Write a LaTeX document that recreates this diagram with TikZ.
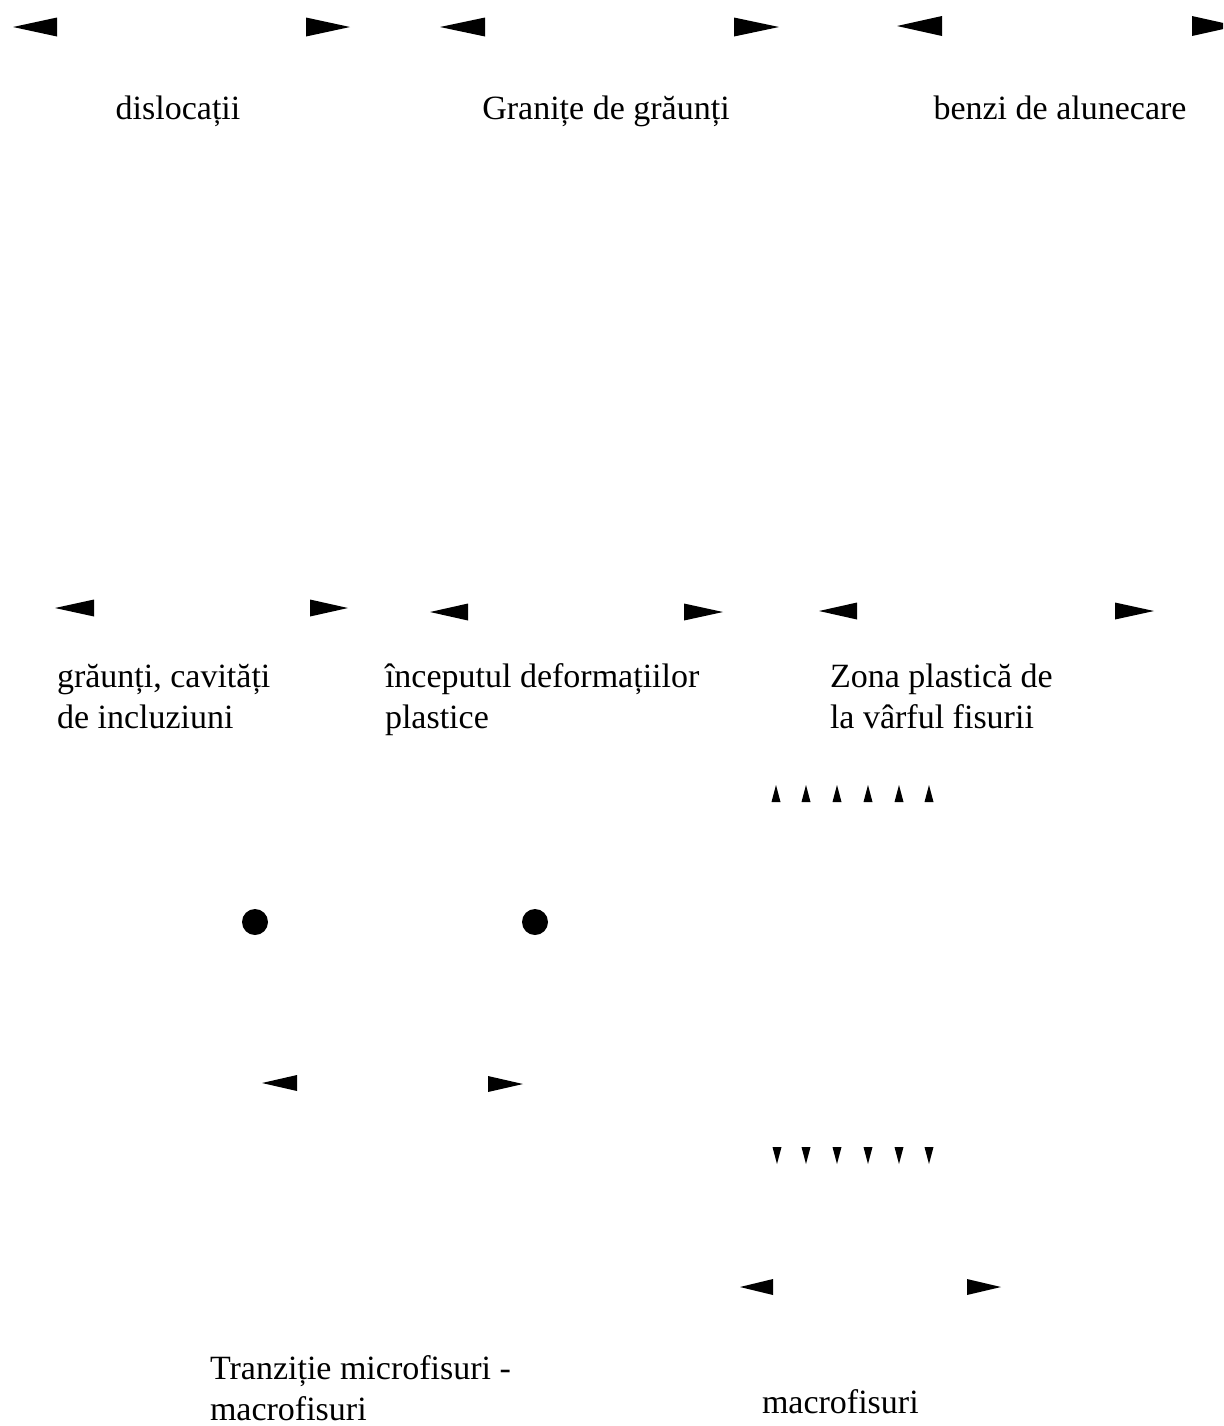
\documentclass[tikz,border=0pt]{standalone}
\usepackage{fontspec}
\setmainfont{Liberation Serif}
\newcommand\lefthead[4]{\fill[headfill] (#1,#2) -- ++(#3,-#4) -- ++(0,2*#4) -- cycle;}
\newcommand\righthead[4]{\fill[headfill] (#1,#2) -- ++(-#3,-#4) -- ++(0,2*#4) -- cycle;}
\newcommand\uphead[2]{\fill[headfill] (#1,#2) -- ++(-4.5,17) -- ++(9,0) -- cycle;}
\newcommand\downhead[2]{\fill[headfill] (#1,#2) -- ++(-4.5,-17) -- ++(9,0) -- cycle;}
\begin{document}
\begin{tikzpicture}[x=0.5pt,y=-0.5pt,
  headfill/.style={fill=black},
  lbl/.style={font=\fontsize{17}{20.5}\selectfont, inner sep=0pt, outer sep=0pt, align=left},
  dotstyle/.style={fill=black}]
\useasboundingbox (0,0) rectangle (1223,1426);
\clip (0,0) rectangle (1223,1426);
\fill[white] (0,0) rectangle (1223,1426);
% row 1 arrowheads
\lefthead{13}{27}{44}{9.5}
\righthead{350}{27}{44}{9.5}
\lefthead{440}{27}{45}{9.5}
\righthead{779}{27}{45}{9.5}
\lefthead{897}{26}{45}{10}
\righthead{1237}{26}{45}{10}
% row 1 labels
\node[lbl, anchor=base] (t1) at (178,119) {dislocații};
\node[lbl, anchor=base] (t2) at (606,119) {Granițe de grăunți};
\node[lbl, anchor=base] (t3) at (1060,119) {benzi de alunecare};
% row 2 arrowheads
\lefthead{55}{608}{39}{8.5}
\righthead{348}{608}{38}{8.5}
\lefthead{430}{612}{38}{8.5}
\righthead{723}{612}{39}{8.5}
\lefthead{819}{611}{38}{8.5}
\righthead{1154}{611}{39}{8.5}
% row 2 labels (base = last line)
\node[lbl, anchor=base west] (t4) at (57,728) {grăunți, cavități\\de incluziuni};
\node[lbl, anchor=base west] (t5) at (385,728) {începutul deformațiilor\\plastice};
\node[lbl, anchor=base west] (t6) at (830,728) {Zona plastică de\\la vârful fisurii};
% small up/down heads
\foreach \xx in {776,806,837,868,899,929} {\uphead{\xx}{785}}
\foreach \xx in {777,806,837,868,899,929} {\downhead{\xx}{1164}}
% dots
\fill[dotstyle] (255,922) circle (13);
\fill[dotstyle] (535,922) circle (13);
% lower arrowheads
\lefthead{262}{1083}{35}{8}
\righthead{523}{1084}{35}{8}
\lefthead{740}{1287}{33}{8}
\righthead{1001}{1287}{34}{8}
% bottom labels
\node[lbl, anchor=base west] (t7) at (210,1420) {Tranziție microfisuri -\\macrofisuri};
\node[lbl, anchor=base west] (t8) at (762,1413) {macrofisuri};
\end{tikzpicture}
\end{document}
